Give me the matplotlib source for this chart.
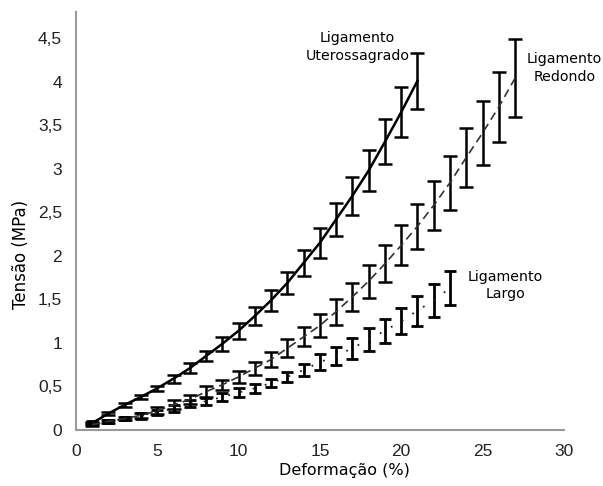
import matplotlib
matplotlib.use("Agg")
import matplotlib.pyplot as plt
from matplotlib.ticker import FuncFormatter

# Data
x_utero = list(range(1, 22))
y_utero = [0.08, 0.19, 0.29, 0.38, 0.48, 0.59, 0.71, 0.85, 0.99, 1.14, 1.31,
           1.49, 1.69, 1.92, 2.15, 2.42, 2.69, 2.98, 3.31, 3.65, 4.01]
e_utero = [0.01, 0.015, 0.02, 0.025, 0.03, 0.045, 0.055, 0.06, 0.08, 0.09, 0.10,
           0.12, 0.13, 0.15, 0.17, 0.19, 0.22, 0.24, 0.26, 0.29, 0.32]

x_redondo = list(range(1, 28))
y_redondo = [0.06, 0.10, 0.13, 0.17, 0.22, 0.29, 0.35, 0.44, 0.52, 0.61, 0.71,
             0.81, 0.94, 1.07, 1.20, 1.36, 1.53, 1.71, 1.91, 2.12, 2.34, 2.58,
             2.84, 3.13, 3.41, 3.71, 4.04]
e_redondo = [0.015, 0.02, 0.02, 0.03, 0.04, 0.05, 0.05, 0.06, 0.06, 0.065, 0.075,
             0.085, 0.10, 0.11, 0.13, 0.15, 0.16, 0.19, 0.21, 0.23, 0.26, 0.28,
             0.31, 0.34, 0.37, 0.40, 0.45]

x_largo = list(range(1, 24))
y_largo = [0.08, 0.10, 0.13, 0.16, 0.20, 0.25, 0.30, 0.33, 0.38, 0.43, 0.48,
           0.54, 0.61, 0.69, 0.78, 0.85, 0.94, 1.04, 1.14, 1.25, 1.37, 1.49, 1.63]
e_largo = [0.02, 0.02, 0.02, 0.03, 0.03, 0.04, 0.04, 0.04, 0.05, 0.05, 0.05,
           0.05, 0.06, 0.07, 0.09, 0.10, 0.12, 0.13, 0.14, 0.15, 0.17, 0.19, 0.20]

x_ticks = [0, 5, 10, 15, 20, 25, 30]
y_ticks = [0, 0.5, 1, 1.5, 2, 2.5, 3, 3.5, 4, 4.5]

fig = plt.figure(figsize=(6.03, 4.86), dpi=100)
ax = fig.add_axes([0.126, 0.1152, 0.809, 0.86])

ax.errorbar(x_utero, y_utero, yerr=e_utero, color="black", ecolor="black",
            lw=1.8, ls="-", elinewidth=1.8, capsize=4.8, capthick=1.8)
ax.errorbar(x_redondo, y_redondo, yerr=e_redondo, color="#333333", ecolor="black",
            lw=1.2, ls=(0, (5, 3)), elinewidth=1.8, capsize=4.8, capthick=1.8)
ax.errorbar(x_largo, y_largo, yerr=e_largo, color="#222222", ecolor="black",
            lw=1.3, ls=(0, (1, 6)), elinewidth=2.0, capsize=4.5, capthick=2.0)

ax.set_xlim(0, 30)
ax.set_ylim(0, 4.8)
ax.set_xticks(x_ticks)
ax.set_yticks(y_ticks)

def comma(v, pos):
    return ("%g" % v).replace(".", ",")

ax.yaxis.set_major_formatter(FuncFormatter(comma))
ax.xaxis.set_major_formatter(FuncFormatter(comma))
ax.tick_params(length=0, labelsize=12.5, colors="#222222", pad=10)
for lab in ax.get_xticklabels() + ax.get_yticklabels():
    lab.set_family("Liberation Sans")

for s in ["top", "right"]:
    ax.spines[s].set_visible(False)
for s in ["left", "bottom"]:
    ax.spines[s].set_color("#9a9a9a")
    ax.spines[s].set_linewidth(1.5)

ax.set_xlabel("Deformação (%)", fontsize=11.5)
ax.set_ylabel("Tensão (MPa)", fontsize=12)
ax.xaxis.set_label_coords(0.55, -0.08)
ax.yaxis.set_label_coords(-0.095, 0.42)

ax.text(17.3, 4.40, "Ligamento\nUterossagrado", ha="center", va="center",
        fontsize=10.2, linespacing=1.35)
ax.text(30.05, 4.16, "Ligamento\nRedondo", ha="center", va="center",
        fontsize=10.2, linespacing=1.35)
ax.text(26.4, 1.66, "Ligamento\nLargo", ha="center", va="center",
        fontsize=10.2, linespacing=1.35)

fig.savefig("out.png", dpi=100)
